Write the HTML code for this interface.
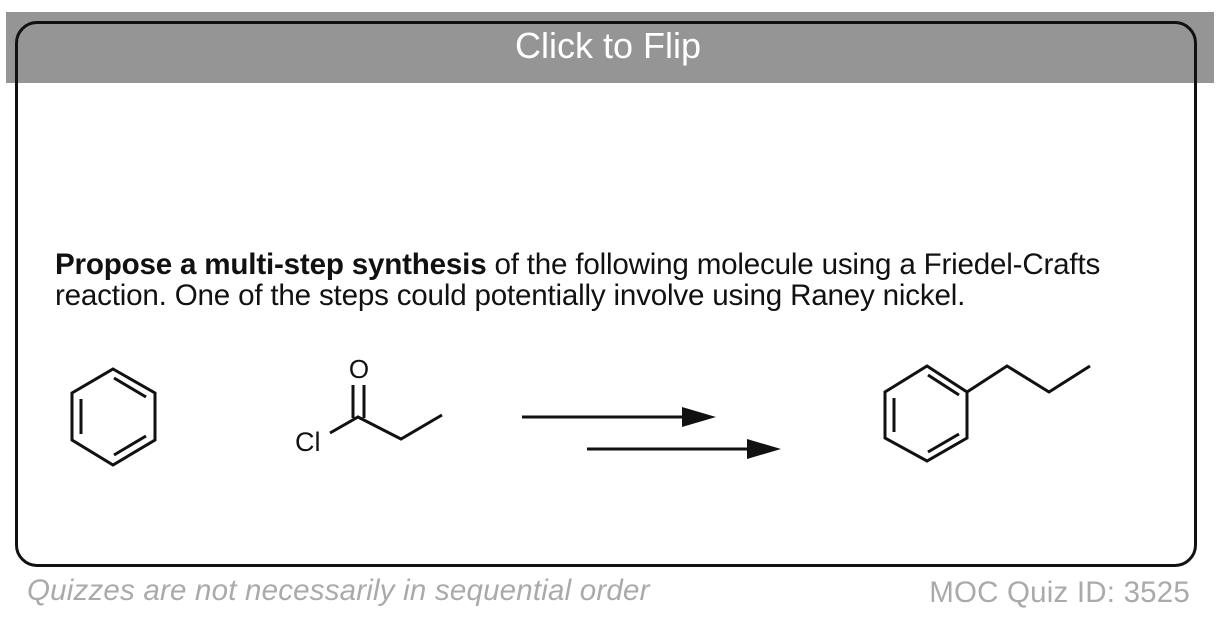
<!DOCTYPE html>
<html><head><meta charset="utf-8"><style>
html,body{margin:0;padding:0;background:#fff;}
body{width:1220px;height:620px;position:relative;overflow:hidden;font-family:"Liberation Sans",Arial,sans-serif;}
.hdr{position:absolute;left:6px;top:12px;width:1208px;height:71px;background:#959595;}
.box{position:absolute;left:15px;top:21px;width:1176px;height:540px;border:3px solid #111;border-radius:22px;}
.title{position:absolute;left:0;width:1216px;top:25px;text-align:center;color:#fff;font-size:36px;}
.q{position:absolute;left:55px;top:249px;font-size:29.6px;line-height:31px;color:#111;white-space:nowrap;letter-spacing:-0.2px;}
.f1{position:absolute;left:27px;top:574px;font-size:29.5px;font-style:italic;color:#aaa;letter-spacing:0.2px;}
.f2{position:absolute;right:30px;top:576px;font-size:29.5px;color:#aaa;letter-spacing:0.2px;}
</style></head><body>
<div class="hdr"></div>
<div class="box"></div>
<div class="title">Click to Flip</div>
<div class="q"><b>Propose a multi-step synthesis</b> of the following molecule using a Friedel-Crafts<br>reaction. One of the steps could potentially involve using Raney nickel.</div>
<svg width="1220" height="620" style="position:absolute;left:0;top:0" xmlns="http://www.w3.org/2000/svg">
<g stroke="#111" stroke-width="3" fill="none" stroke-linejoin="miter">
<polygon points="113,369 155,393 155,440 113,465 72,440 72,393"/>
<line x1="114" y1="378" x2="146" y2="397"/>
<line x1="146" y1="436" x2="114" y2="455"/>
<line x1="81" y1="399" x2="81" y2="434"/>
<polyline points="330,433 358,417 401,439 442,415"/>
<line x1="353" y1="418" x2="353" y2="385"/>
<line x1="364" y1="418" x2="364" y2="385"/>
<polygon points="927,366 967,392 967,438 927,461 885,438 885,392"/>
<line x1="928" y1="375" x2="959" y2="395"/>
<line x1="959" y1="434" x2="928" y2="452"/>
<line x1="894" y1="398" x2="894" y2="432"/>
<polyline points="967,392 1007,366 1049,392 1090,366"/>
<line x1="522" y1="417" x2="690" y2="417"/>
<line x1="587" y1="449" x2="755" y2="449"/>
</g>
<polygon points="682,407 716,417 682,427" fill="#111"/>
<polygon points="747,439 781,449 747,459" fill="#111"/>
<text x="359" y="378" font-size="26" text-anchor="middle" fill="#111" font-family="Liberation Sans, Arial, sans-serif">O</text>
<text x="295" y="451" font-size="27" fill="#111" font-family="Liberation Sans, Arial, sans-serif">Cl</text>
</svg>
<div class="f1">Quizzes are not necessarily in sequential order</div>
<div class="f2">MOC Quiz ID: 3525</div>
</body></html>
